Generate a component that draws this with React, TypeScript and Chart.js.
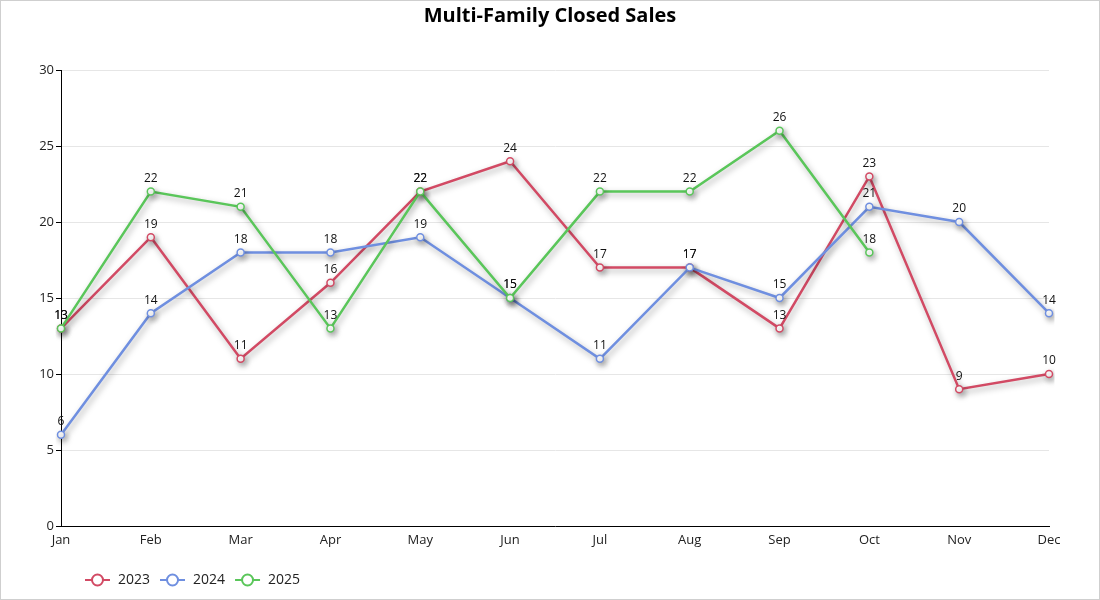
import { Chart, registerables } from "chart.js";
import React, { useEffect, useRef } from "react";

Chart.register(...registerables);

const months = ["Jan", "Feb", "Mar", "Apr", "May", "Jun", "Jul", "Aug", "Sep", "Oct", "Nov", "Dec"];
const sales2023 = [13, 19, 11, 16, 22, 24, 17, 17, 13, 23, 9, 10];
const sales2024 = [6, 14, 18, 18, 19, 15, 11, 17, 15, 21, 20, 14];
const sales2025 = [13, 22, 21, 13, 22, 15, 22, 22, 26, 18, null, null];
const yTicks = [0, 5, 10, 15, 20, 25, 30];
const chartTitle = "Multi-Family Closed Sales";

const FONT = "'Open Sans', 'Noto Sans', sans-serif";

// drop shadow under each line, like the original
const shadowPlugin = {
  id: "lineShadow",
  beforeDatasetDraw(chart: any) {
    const ctx = chart.ctx;
    ctx.save();
    ctx.shadowColor = "rgba(0,0,0,0.35)";
    ctx.shadowBlur = 6;
    ctx.shadowOffsetX = 2;
    ctx.shadowOffsetY = 3;
  },
  afterDatasetDraw(chart: any) {
    chart.ctx.restore();
  },
};

// value labels above every point
const valueLabels = {
  id: "valueLabels",
  afterDatasetsDraw(chart: any) {
    const ctx = chart.ctx;
    ctx.save();
    ctx.font = `12px ${FONT}`;
    ctx.fillStyle = "#111";
    ctx.textAlign = "center";
    ctx.textBaseline = "middle";
    chart.data.datasets.forEach((ds: any, i: number) => {
      const meta = chart.getDatasetMeta(i);
      meta.data.forEach((pt: any, j: number) => {
        const v = ds.data[j];
        if (v === null || v === undefined) return;
        ctx.fillText(String(v), pt.x, pt.y - 13);
      });
    });
    ctx.restore();
  },
};

// title centred on the whole canvas + echarts-style legend bottom left
const frameText = {
  id: "frameText",
  afterDraw(chart: any) {
    const ctx = chart.ctx;
    ctx.save();
    ctx.font = `bold 20px ${FONT}`;
    ctx.fillStyle = "#000";
    ctx.textAlign = "center";
    ctx.textBaseline = "middle";
    ctx.fillText(chartTitle, chart.width / 2, 15);

    ctx.font = `14px ${FONT}`;
    ctx.textAlign = "left";
    let x = 84;
    const y = 579;
    chart.data.datasets.forEach((ds: any) => {
      ctx.strokeStyle = ds.borderColor;
      ctx.lineWidth = 2;
      ctx.beginPath();
      ctx.moveTo(x, y);
      ctx.lineTo(x + 25, y);
      ctx.stroke();
      ctx.beginPath();
      ctx.arc(x + 12.5, y, 5.5, 0, Math.PI * 2);
      ctx.fillStyle = "#fff";
      ctx.fill();
      ctx.stroke();
      ctx.fillStyle = "#222";
      ctx.fillText(ds.label, x + 33, y);
      x += 33 + ctx.measureText(ds.label).width + 10;
    });
    ctx.restore();
  },
};

const App: React.FC = () => {
  const chartRef = useRef<HTMLCanvasElement>(null);

  useEffect(() => {
    document.body.style.margin = "0";
    if (!chartRef.current) return;
    const ctx = chartRef.current.getContext("2d");
    if (!ctx) return;

    const line = (label: string, data: (number | null)[], color: string, order: number) => ({
      label,
      data,
      borderColor: color,
      backgroundColor: "#fff",
      pointBackgroundColor: "#fff",
      pointBorderColor: color,
      pointRadius: 3.5,
      pointBorderWidth: 1.5,
      borderWidth: 2.5,
      tension: 0,
      spanGaps: false,
      order,
    });

    const chart = new Chart(ctx, {
      type: "line",
      data: {
        labels: months,
        datasets: [
          line("2023", sales2023, "#d24a64", 3),
          line("2024", sales2024, "#6f8fe0", 2),
          line("2025", sales2025, "#5ac65a", 1),
        ],
      },
      options: {
        animation: false,
        responsive: true,
        maintainAspectRatio: false,
        layout: { padding: { left: 10, right: 50, top: 69, bottom: 45 } },
        plugins: {
          legend: { display: false },
          tooltip: { enabled: false },
          title: { display: false },
        },
        scales: {
          x: {
            offset: false,
            grid: { display: false, drawTicks: false },
            border: { display: true, color: "#000", width: 1 },
            ticks: {
              color: "#222",
              font: { family: FONT, size: 13 },
              padding: 6,
              maxRotation: 0,
              autoSkip: false,
            },
            afterFit(scale: any) {
              scale.height = 28;
            },
          },
          y: {
            min: 0,
            max: 30,
            afterBuildTicks(scale: any) {
              scale.ticks = yTicks.map((v) => ({ value: v }));
            },
            grid: {
              color: "#e6e6e6",
              tickColor: "#000",
              tickLength: 5,
            },
            border: { display: true, color: "#000", width: 1 },
            ticks: {
              color: "#222",
              font: { family: FONT, size: 13 },
              padding: 2,
            },
            afterFit(scale: any) {
              scale.width = 50;
            },
          },
        },
      },
      plugins: [shadowPlugin, valueLabels, frameText],
    });

    return () => {
      chart.destroy();
    };
  }, []);

  return (
    <div
      style={{
        width: 1100,
        height: 600,
        boxSizing: "border-box",
        border: "1px solid #cfcfcf",
        background: "#fff",
        position: "relative",
      }}
    >
      <canvas ref={chartRef} />
    </div>
  );
};

export default App;
